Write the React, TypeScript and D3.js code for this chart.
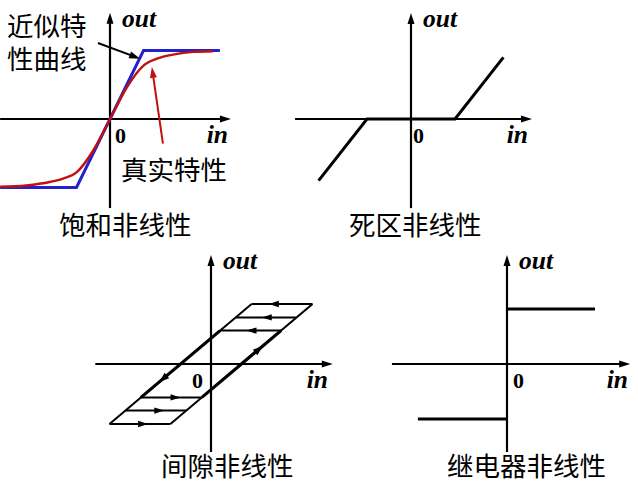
import React from "react";
import * as d3 from "d3";

// saturation (units: input 1 = knee, output 1 = level)
const satIn = [-3.28, -1, 1, 3.28];
const satOut = [-1, -1, 1, 1];
const realIn = [-3.28, -2.5, -1.8, -1.4, -1, -0.5, 0, 0.5, 1, 1.4, 2, 2.5, 3.07];
const realOut = [-0.99, -0.97, -0.92, -0.87, -0.78, -0.46, 0, 0.46, 0.78, 0.88, 0.95, 0.98, 0.99];

// dead zone
const dzIn = [-4.2, -2, 2, 4.2];
const dzOut = [-2.8, 0, 0, 2.8];

// backlash
const blEdgeOut = [-3, 3];
const blLeftIn = [-5, 2];
const blRightIn = [-2, 5];
const blLevels = [3, 2.33, 1.67, -1.67, -2.33, -3];
const blArrowIn = [2.85, 2.5, 1.75, -1.5, -2.3, -3.1];
const blSlantArrowOut = [-0.9, 0.9];

// relay
const relayIn = [[0, 4], [-4.05, 0]];
const relayOut = [1, -1];

const titles = ["饱和非线性", "死区非线性", "间隙非线性", "继电器非线性"];
const approxLabel = ["近似特", "性曲线"];
const realLabel = "真实特性";

const panels = [
  { ox: 110, oy: 119, ux: 33.5, uy: 68.5, xr: [-3.28, 3.61], yr: [-1.3, 1.55], zeroDx: 5, inEnd: 228, title: titles[0], tx: 59, ty: 235 },
  { ox: 411, oy: 119, ux: 22, uy: 22, xr: [-5.27, 5.5], yr: [-4.05, 4.82], zeroDx: 2, inEnd: 528, title: titles[1], tx: 349, ty: 235 },
  { ox: 211, oy: 364, ux: 20.3, uy: 20, xr: [-5.7, 6.0], yr: [-4.4, 5.45], zeroDx: -19, inEnd: 328, title: titles[2], tx: 161, ty: 476 },
  { ox: 507, oy: 364, ux: 22, uy: 55, xr: [-5.23, 5.6], yr: [-1.6, 1.98], zeroDx: 6, inEnd: 628, title: titles[3], tx: 447, ty: 476 },
];

const cjk = "'Noto Sans CJK SC', sans-serif";
const serif = "'Liberation Serif', 'Times New Roman', serif";

function arrowHead(tx: number, ty: number, ang: number, len: number, half: number) {
  const bx = tx - len * Math.cos(ang), by = ty - len * Math.sin(ang);
  const nx = -Math.sin(ang) * half, ny = Math.cos(ang) * half;
  return `${tx},${ty} ${bx + nx},${by + ny} ${bx - nx},${by - ny}`;
}

function scales(p: any) {
  const x = d3.scaleLinear().domain([0, 1]).range([p.ox, p.ox + p.ux]);
  const y = d3.scaleLinear().domain([0, 1]).range([p.oy, p.oy - p.uy]);
  return { x, y };
}

function Axes({ p }: { p: any }) {
  const { x, y } = scales(p);
  const x0 = x(p.xr[0]), x1 = x(p.xr[1]);
  const y0 = y(p.yr[0]), y1 = y(p.yr[1]);
  return (
    <g>
      <line x1={x0} x2={x1 - 6} y1={p.oy} y2={p.oy} stroke="#000" strokeWidth={2.2} />
      <polygon points={arrowHead(x1, p.oy, 0, 11, 3.5)} fill="#000" />
      <line x1={p.ox} x2={p.ox} y1={y0} y2={y1 + 6} stroke="#000" strokeWidth={2.2} />
      <polygon points={arrowHead(p.ox, y1, -Math.PI / 2, 11, 3.5)} fill="#000" />
      <text x={p.ox + 12} y={y1 + 14} fontFamily={serif} fontWeight="bold" fontStyle="italic" fontSize={25.5}>out</text>
      <text x={p.ox + p.zeroDx} y={p.oy + 24} fontFamily={serif} fontWeight="bold" fontSize={22}>0</text>
      <text x={p.inEnd} y={p.oy + 24} textAnchor="end" fontFamily={serif} fontWeight="bold" fontStyle="italic" fontSize={25.5}>in</text>
      <text x={p.tx} y={p.ty} fontFamily={cjk} fontSize={26.5}>{p.title}</text>
    </g>
  );
}

function Saturation() {
  const p = panels[0];
  const { x, y } = scales(p);
  const line = d3.line<number>().x((d) => x(d)).y((_, i) => y(satOut[i]));
  const curve = d3.line<number>().x((d) => x(d)).y((_, i) => y(realOut[i])).curve(d3.curveMonotoneX);
  const bA = [x(-0.36), y(1.11)], bB = [x(0.9), y(0.88)];
  const rA = [x(1.58), y(-0.36)], rB = [x(1.25), y(0.76)];
  const bAng = Math.atan2(bB[1] - bA[1], bB[0] - bA[0]);
  const rAng = Math.atan2(rB[1] - rA[1], rB[0] - rA[0]);
  return (
    <g>
      <path d={line(satIn) || ""} fill="none" stroke="#2222cc" strokeWidth={3} />
      <path d={curve(realIn) || ""} fill="none" stroke="#c01010" strokeWidth={2.4} />
      <line x1={bA[0]} y1={bA[1]} x2={bB[0] - 8 * Math.cos(bAng)} y2={bB[1] - 8 * Math.sin(bAng)} stroke="#000" strokeWidth={2} />
      <polygon points={arrowHead(bB[0], bB[1], bAng, 11, 3.5)} fill="#000" />
      <line x1={rA[0]} y1={rA[1]} x2={rB[0] - 8 * Math.cos(rAng)} y2={rB[1] - 8 * Math.sin(rAng)} stroke="#c01010" strokeWidth={2} />
      <polygon points={arrowHead(rB[0], rB[1], rAng, 11, 3.5)} fill="#c01010" />
      <text fontFamily={cjk} fontSize={26.5}>
        <tspan x={7} y={36}>{approxLabel[0]}</tspan>
        <tspan x={7} y={69}>{approxLabel[1]}</tspan>
      </text>
      <text x={121} y={180} fontFamily={cjk} fontSize={26.5}>{realLabel}</text>
    </g>
  );
}

function DeadZone() {
  const p = panels[1];
  const { x, y } = scales(p);
  const line = d3.line<number>().x((d) => x(d)).y((_, i) => y(dzOut[i]));
  return <path d={line(dzIn) || ""} fill="none" stroke="#000" strokeWidth={3} strokeLinejoin="miter" />;
}

function Backlash() {
  const p = panels[2];
  const { x, y } = scales(p);
  const leftU = d3.scaleLinear().domain(blEdgeOut).range(blLeftIn);
  const rightU = d3.scaleLinear().domain(blEdgeOut).range(blRightIn);
  const inner = blLevels[2];
  const slantAng = Math.atan2(y(6) - y(0), x(7) - x(0));
  return (
    <g stroke="#000">
      <line x1={x(blLeftIn[0])} y1={y(blEdgeOut[0])} x2={x(blLeftIn[1])} y2={y(blEdgeOut[1])} strokeWidth={2} />
      <line x1={x(blRightIn[0])} y1={y(blEdgeOut[0])} x2={x(blRightIn[1])} y2={y(blEdgeOut[1])} strokeWidth={2} />
      <line x1={x(leftU(-inner))} y1={y(-inner)} x2={x(leftU(inner))} y2={y(inner)} strokeWidth={3.2} />
      <line x1={x(rightU(-inner))} y1={y(-inner)} x2={x(rightU(inner))} y2={y(inner)} strokeWidth={3.2} />
      {blLevels.map((v, i) => (
        <line key={i} x1={x(leftU(v))} x2={x(rightU(v))} y1={y(v)} y2={y(v)} strokeWidth={2} />
      ))}
      {blLevels.map((v, i) => (
        <polygon key={"a" + i} stroke="none" fill="#000"
          points={arrowHead(x(blArrowIn[i]), y(v), v > 0 ? Math.PI : 0, 10, 3.2)} />
      ))}
      <polygon stroke="none" fill="#000"
        points={arrowHead(x(leftU(blSlantArrowOut[0])), y(blSlantArrowOut[0]), slantAng + Math.PI, 10, 3.5)} />
      <polygon stroke="none" fill="#000"
        points={arrowHead(x(rightU(blSlantArrowOut[1])), y(blSlantArrowOut[1]), slantAng, 10, 3.5)} />
    </g>
  );
}

function Relay() {
  const p = panels[3];
  const { x, y } = scales(p);
  return (
    <g>
      {relayIn.map((r, i) => (
        <line key={i} x1={x(r[0])} x2={x(r[1])} y1={y(relayOut[i])} y2={y(relayOut[i])} stroke="#000" strokeWidth={3.2} />
      ))}
    </g>
  );
}

export default function App() {
  return (
    <svg width={638} height={485} style={{ position: "absolute", left: 0, top: 0, background: "#fff" }}>
      <rect width={638} height={485} fill="#fff" />
      {panels.map((p, i) => <Axes key={i} p={p} />)}
      <Saturation />
      <DeadZone />
      <Backlash />
      <Relay />
    </svg>
  );
}
